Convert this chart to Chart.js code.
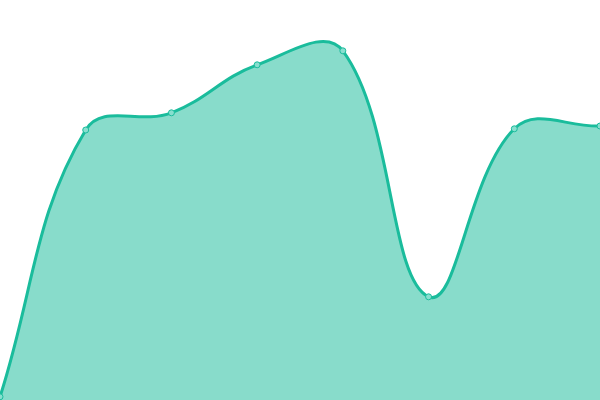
<!DOCTYPE html>
<html>
<head>
<meta charset="utf-8">
<script src="https://cdn.jsdelivr.net/npm/chart.js@4/dist/chart.umd.min.js"></script>
<style>
  html, body { margin: 0; padding: 0; background: #fff; }
  #wrap { width: 600px; height: 400px; }
</style>
</head>
<body>
<div id="wrap"><canvas id="chart"></canvas></div>
<script>
const labels = ['1', '2', '3', '4', '5', '6', '7', '8'];
const values = [0.8, 67.5, 71.8, 83.8, 87.3, 25.8, 67.8, 68.5];

const canvas = document.getElementById('chart');

new Chart(canvas, {
  type: 'line',
  data: {
    labels,
    datasets: [{
      data: values,
      borderColor: '#1abc9c',
      backgroundColor: 'rgba(26, 188, 156, 0.52)',
      borderWidth: 3,
      tension: 0.4,
      fill: true,
      pointRadius: 3,
      pointBorderWidth: 1,
      pointBackgroundColor: '#88dfcf',
      pointBorderColor: '#1abc9c',
    }],
  },
  options: {
    responsive: true,
    maintainAspectRatio: false,
    animation: false,
    layout: { padding: 0, autoPadding: false },
    plugins: {
      legend: { display: false },
      tooltip: { enabled: false },
    },
    scales: {
      x: {
        display: false,
        offset: false,
      },
      y: {
        display: false,
        min: 0,
        max: 100,
      },
    },
  },
});
</script>
</body>
</html>
